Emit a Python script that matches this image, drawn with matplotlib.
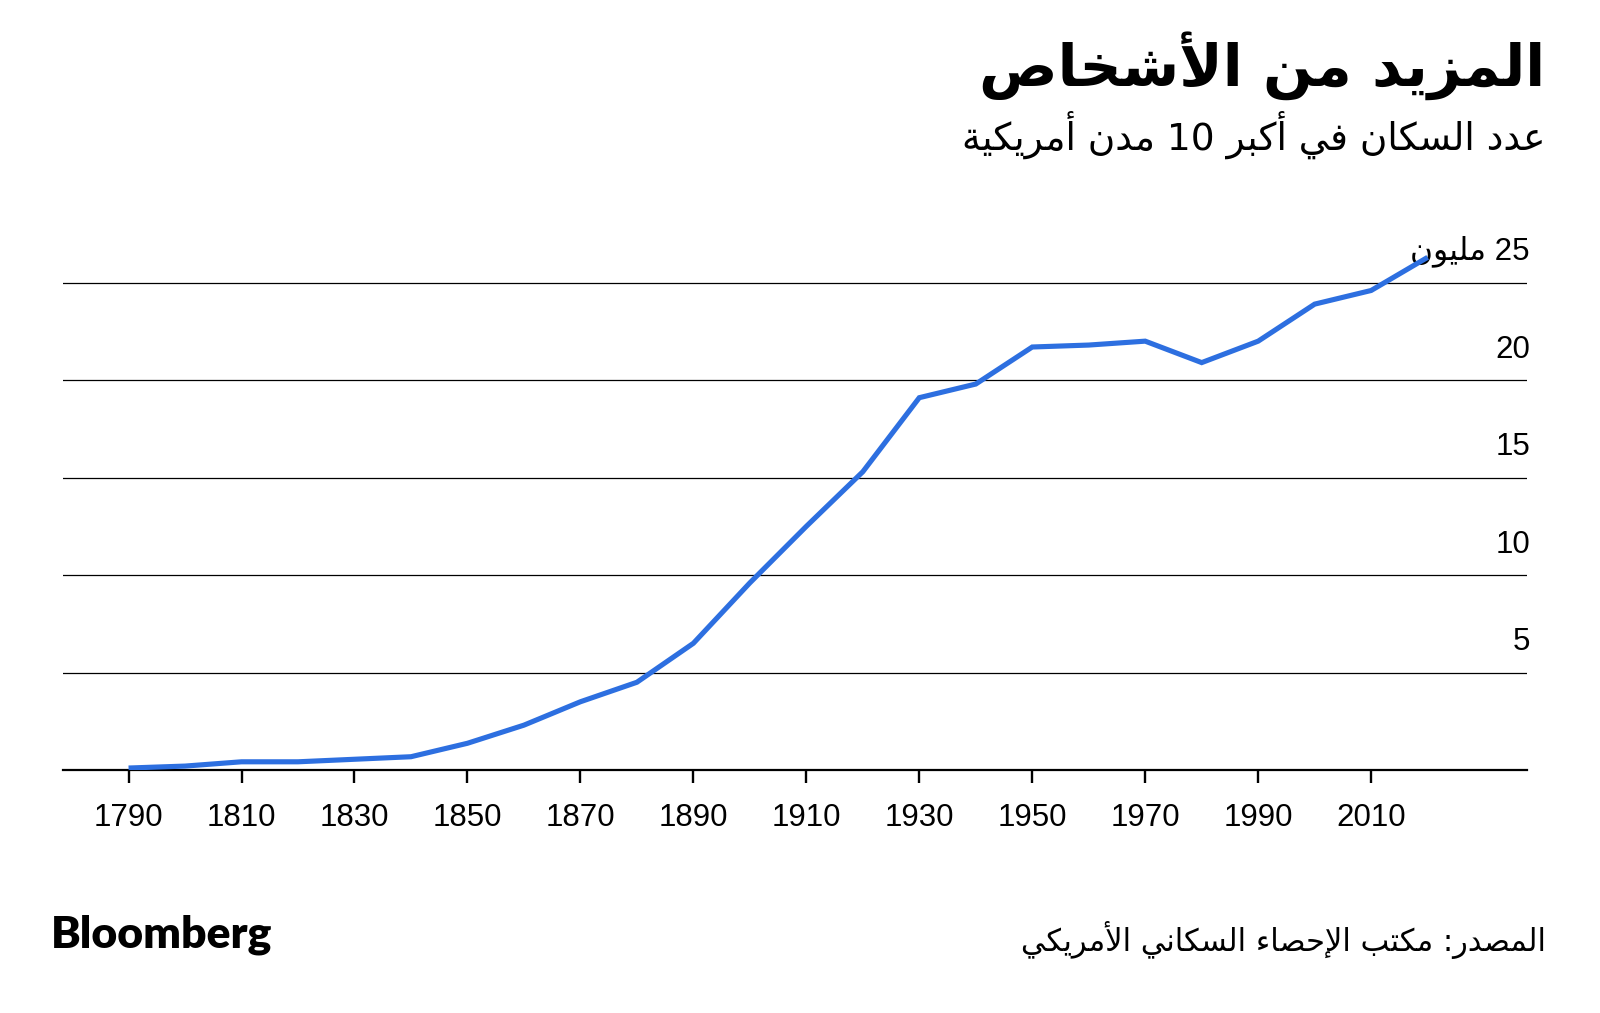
#!/usr/bin/env python3
"""
Population of the 10 largest US cities, 1790-2020 (Bloomberg style, Arabic labels)
"""

import re
import matplotlib
matplotlib.use('Agg')
import matplotlib.pyplot as plt
import matplotlib.transforms as mtransforms

# Data (millions of people)
years = [1790, 1800, 1810, 1820, 1830, 1840, 1850, 1860, 1870, 1880, 1890, 1900,
         1910, 1920, 1930, 1940, 1950, 1960, 1970, 1980, 1990, 2000, 2010, 2020]
population = [0.1, 0.2, 0.42, 0.42, 0.55, 0.68, 1.37, 2.3, 3.5, 4.5, 6.5, 9.6,
              12.5, 15.3, 19.1, 19.8, 21.7, 21.8, 22.0, 20.9, 22.0, 23.9, 24.6, 26.3]

x_ticks = [1790, 1810, 1830, 1850, 1870, 1890, 1910, 1930, 1950, 1970, 1990, 2010]
y_ticks = [5, 10, 15, 20, 25]
y_labels = ['5', '10', '15', '20', '25 مليون']

title = 'المزيد من الأشخاص'
subtitle = 'عدد السكان في أكبر 10 مدن أمريكية'
source = 'المصدر: مكتب الإحصاء السكاني الأمريكي'

# --- minimal Arabic shaping: matplotlib has no text shaping, so map letters to
# their presentation forms and lay them out right-to-left by hand
counts = [1, 2, 2, 2, 2, 4, 2, 4, 2, 4, 4, 4, 4, 4, 2, 2, 2, 2, 4, 4, 4, 4, 4, 4, 4, 4,
          4, 4, 4, 4, 4, 4, 4, 2, 2, 4]
letters = list(range(0x0621, 0x063B)) + list(range(0x0641, 0x064B))
FORMS = {}
pos = 0xFE80
for code, n in zip(letters, counts):
    FORMS[code] = (pos, n)
    pos += n
LAM_ALEF = {0x0622: 0xFEF5, 0x0623: 0xFEF7, 0x0625: 0xFEF9, 0x0627: 0xFEFB}


def ar(text):
    chars = [ord(c) for c in text]
    out = []
    i = 0
    while i < len(chars):
        c = chars[i]
        if c not in FORMS:
            out.append(chr(c))
            i += 1
            continue
        prev_join = i > 0 and chars[i - 1] in FORMS and FORMS[chars[i - 1]][1] == 4
        if c == 0x0644 and i + 1 < len(chars) and chars[i + 1] in LAM_ALEF:
            out.append(chr(LAM_ALEF[chars[i + 1]] + (1 if prev_join else 0)))
            i += 2
            continue
        base, n = FORMS[c]
        next_join = (n == 4 and i + 1 < len(chars) and chars[i + 1] in FORMS
                     and chars[i + 1] != 0x0621)
        if n == 1:
            form = 0
        elif n == 2:
            form = 1 if prev_join else 0
        else:
            form = {(False, False): 0, (True, False): 1,
                    (False, True): 2, (True, True): 3}[(prev_join, next_join)]
        out.append(chr(base + form))
        i += 1
    s = ''.join(out)[::-1]
    # numbers keep their left-to-right order
    return re.sub(r'[0-9]+', lambda m: m.group(0)[::-1], s)


LATIN = ['Liberation Sans', 'DejaVu Sans']
ARABIC = ['DejaVu Sans']

fig = plt.figure(figsize=(16, 10.13), dpi=100)
ax = fig.add_axes([0.0394, 0.2399, 0.915, 0.533])

ax.plot(years, population, color='#2d6fe0', linewidth=3.7,
        solid_capstyle='butt', solid_joinstyle='miter', zorder=5)

ax.set_xlim(1778.4, 2037.6)
ax.set_ylim(0, 27.7)

ax.set_xticks(x_ticks)
ax.set_xticklabels([str(y) for y in x_ticks], fontsize=22.5, family=LATIN)
ax.tick_params(axis='x', length=9.5, width=1.7, pad=14, colors='black')
ax.set_yticks(y_ticks)
ax.set_yticklabels([])
ax.tick_params(axis='y', length=0)
ax.yaxis.grid(True, color='black', linewidth=0.9)
ax.set_axisbelow(True)

for side in ['left', 'right', 'top']:
    ax.spines[side].set_visible(False)
ax.spines['bottom'].set_linewidth(1.6)

# y labels sit above their gridlines at the right edge
trans = mtransforms.blended_transform_factory(ax.transAxes, ax.transData)
offset = mtransforms.offset_copy(trans, fig=fig, y=11, units='points')
for v, lab in zip(y_ticks, y_labels):
    ax.text(1.002, v, ar(lab), transform=offset, ha='right', va='bottom',
            fontsize=22.5, family=LATIN, zorder=3)

fig.text(0.966, 0.969, ar(title), ha='right', va='top', fontsize=42,
         fontweight='bold', family=ARABIC)
fig.text(0.966, 0.891, ar(subtitle), ha='right', va='top', fontsize=27,
         family=ARABIC)
fig.text(0.966, 0.0905, ar(source), ha='right', va='top', fontsize=22,
         family=ARABIC)
fig.text(0.032, 0.0975, 'Bloomberg', ha='left', va='top', fontsize=32,
         fontweight='heavy', family=['Lato', 'Liberation Sans', 'DejaVu Sans'])

plt.savefig('out.png', dpi=100)
